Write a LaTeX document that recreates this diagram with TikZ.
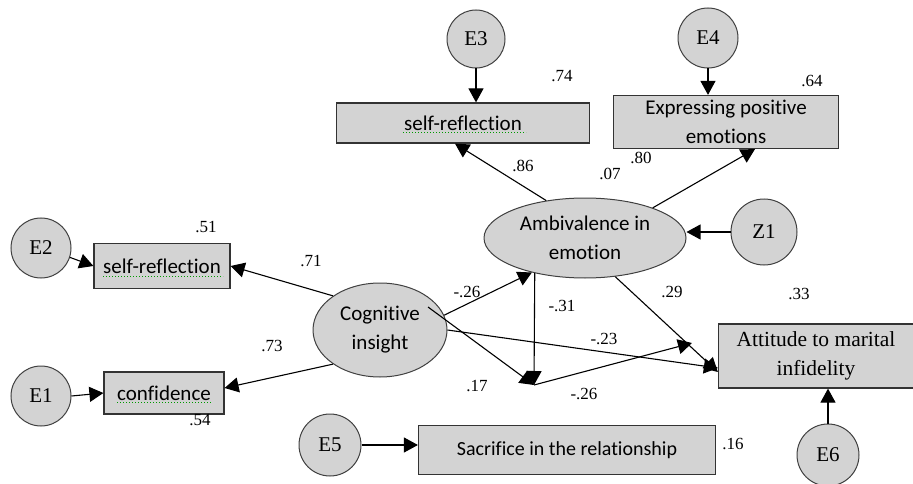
\documentclass[tikz,border=0pt]{standalone}
\usepackage{fontspec}
\setmainfont{Liberation Serif}
\newfontfamily\boxfont[Ligatures=CommonOff]{Carlito}
\usetikzlibrary{arrows.meta,shapes.geometric,calc}
\definecolor{semgray}{RGB}{211,211,211}

\begin{document}
\begin{tikzpicture}[x=1pt,y=-1pt,
  err/.style={circle,draw=black!75,fill=semgray,line width=1pt,inner sep=0pt,minimum size=60pt,font=\fontsize{21}{24}\selectfont},
  obs/.style={rectangle,draw=black!80,fill=semgray,line width=1.2pt,inner sep=0pt,align=center,font=\boxfont\fontsize{21}{29}\selectfont},
  lat/.style={ellipse,draw=black!75,fill=semgray,line width=1pt,inner sep=0pt,align=center,font=\boxfont\fontsize{21}{29}\selectfont},
  arr/.style={-{Triangle[length=14pt,width=15pt]},line width=1.1pt},
  coef/.style={font=\fontsize{17}{18}\selectfont,inner sep=0pt},
  spell/.style={green!60!black,dotted,line width=1pt}]
  \useasboundingbox (0,0) rectangle (913,484);

  %latent variables
  \node[lat,minimum width=202pt,minimum height=80pt] (amb) at (585,238) {Ambivalence in\\emotion};
  \node[lat,minimum width=134pt,minimum height=94pt] (cog) at (380,330) {Cognitive\\insight};

  %observed variables
  \node[obs,minimum width=253pt,minimum height=40pt] (sr1) at (463,123) {self-reflection};
  \node[obs,minimum width=225pt,minimum height=53pt] (epe) at (726,122) {Expressing positive\\emotions};
  \node[obs,minimum width=136pt,minimum height=45pt] (sr2) at (162,266) {self-reflection};
  \node[obs,minimum width=120pt,minimum height=42pt] (conf) at (164,393) {confidence};
  \node[obs,minimum width=297pt,minimum height=49pt,font=\boxfont\fontsize{20}{29}\selectfont] (sac) at (567,450) {Sacrifice in the relationship};
  \node[obs,minimum width=195pt,minimum height=64pt,font=\fontsize{21.5}{29}\selectfont] (att) at (816,356) {Attitude to marital\\infidelity};

  %errors
  \node[err,minimum size=58pt] (E3) at (476,39) {E3};
  \node[err] (E4) at (708,38) {E4};
  \node[err,minimum size=66pt] (Z1) at (764,232) {Z1};
  \node[err] (E2) at (41,248) {E2};
  \node[err] (E1) at (41,396) {E1};
  \node[err,minimum size=62pt] (E5) at (330,445) {E5};
  \node[err,minimum size=62pt] (E6) at (828,455) {E6};

  %spelling marks
  \draw[spell] ([xshift=-60pt,yshift=-10pt]sr1.center) -- ++(123,0);
  \draw[spell] ([xshift=-59pt,yshift=-10pt]sr2.center) -- ++(120,0);
  \draw[spell] ([xshift=-47pt,yshift=-9pt]conf.center) -- ++(95,0);

  %error paths
  \draw[arr] (E3.south) -- (E3.south |- sr1.north);
  \draw[arr] (E4.south) -- (E4.south |- epe.north);
  \draw[arr] (Z1.west) -- (amb.east |- Z1.west);
  \draw[arr] (E2.-18) -- (sr2.west);
  \draw[arr] (E1.east) -- (conf.west);
  \draw[arr] (E5.east) -- (E5.east -| sac.west);
  \draw[arr] (E6.north) -- (E6.north |- att.south);

  %loadings
  \draw[arr] (amb.136) -- ([xshift=-8pt]sr1.south);
  \draw[arr] (amb.24) -- ([xshift=29pt]epe.south);
  \draw[arr] (cog.144) -- (sr2.east);
  \draw[arr] (cog.216) -- ([yshift=5pt]conf.east);

  %structural paths
  \coordinate (j) at (534,385);
  \coordinate (k) at (692,343);
  \draw[arr] (cog.13) -- (amb.213);
  \draw[arr] (amb.215) -- (j);
  \draw[arr] ($(cog.center)+(48,-23)$) -- (j);
  \draw[arr] (j) -- (k);
  \draw[arr] (cog.east) -- ([yshift=-12pt]att.west);
  \draw[arr] (amb.-52) -- ([yshift=-16pt]att.west);

  %coefficients
  \node[coef] (c1) at (562,76) {.74};
  \node[coef] (c2) at (812,81) {.64};
  \node[coef] (c3) at (523,166) {.86};
  \node[coef] (c4) at (610,174) {.07};
  \node[coef] (c5) at (641,158) {.80};
  \node[coef] (c6) at (206,227) {.51};
  \node[coef] (c7) at (311,261) {.71};
  \node[coef] (c8) at (272,346) {.73};
  \node[coef] (c9) at (200,420) {.54};
  \node[coef] (c10) at (467,292) {-.26};
  \node[coef] (c11) at (562,306) {-.31};
  \node[coef] (c12) at (672,292) {.29};
  \node[coef] (c13) at (799,294) {.33};
  \node[coef] (c14) at (604,339) {-.23};
  \node[coef] (c15) at (477,386) {.17};
  \node[coef] (c16) at (584,394) {-.26};
  \node[coef] (c17) at (733,444) {.16};
\end{tikzpicture}
\end{document}
